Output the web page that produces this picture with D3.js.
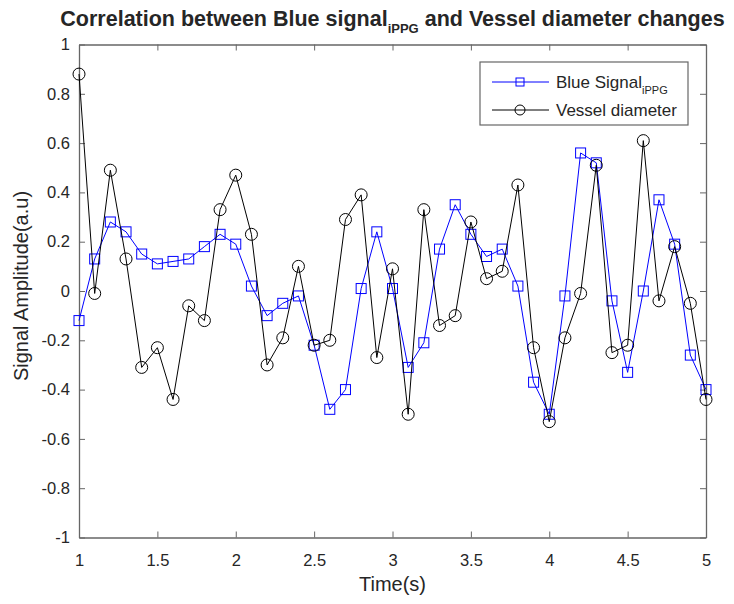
<!DOCTYPE html>
<html>
<head>
<meta charset="UTF-8" />
<script src="https://d3js.org/d3.v7.min.js"></script>
<style>
  body { margin: 0; background: #fff; }
  text { font-family: "Liberation Sans", Arial, sans-serif; fill: #262626; }
</style>
</head>
<body>
<svg id="chart" width="734" height="604"></svg>
<script>
// time samples (s)
const times = d3.range(41).map(i => +(1 + i * 0.1).toFixed(1));
// Blue signal iPPG
const blueSignal = [-0.12, 0.13, 0.28, 0.24, 0.15, 0.11, 0.12, 0.13, 0.18, 0.23,
  0.19, 0.02, -0.10, -0.05, -0.02, -0.22, -0.48, -0.40, 0.01, 0.24,
  0.01, -0.31, -0.21, 0.17, 0.35, 0.23, 0.14, 0.17, 0.02, -0.37,
  -0.50, -0.02, 0.56, 0.52, -0.04, -0.33, 0.00, 0.37, 0.19, -0.26, -0.40];
// Vessel diameter
const vesselDiameter = [0.88, -0.01, 0.49, 0.13, -0.31, -0.23, -0.44, -0.06, -0.12, 0.33,
  0.47, 0.23, -0.30, -0.19, 0.10, -0.22, -0.20, 0.29, 0.39, -0.27,
  0.09, -0.50, 0.33, -0.14, -0.10, 0.28, 0.05, 0.08, 0.43, -0.23,
  -0.53, -0.19, -0.01, 0.51, -0.25, -0.22, 0.61, -0.04, 0.18, -0.05, -0.44];
const xTicks = [1, 1.5, 2, 2.5, 3, 3.5, 4, 4.5, 5];
const yTicks = [-1, -0.8, -0.6, -0.4, -0.2, 0, 0.2, 0.4, 0.6, 0.8, 1];

const margin = { left: 79, right: 28, top: 44.5, bottom: 66.5 };
const W = 734, H = 604;
const svg = d3.select("#chart");

const x = d3.scaleLinear().domain([1, 5]).range([margin.left, W - margin.right]);
const y = d3.scaleLinear().domain([-1, 1]).range([H - margin.bottom, margin.top]);
const axisColor = "#666";
const tickLen = 6;
const fmt = d => String(d);

// axes (MATLAB style: ticks inside, box on)
const xAxisB = svg.append("g").attr("transform", `translate(0,${y(-1)})`)
  .call(d3.axisBottom(x).tickValues(xTicks).tickSizeInner(-tickLen).tickSizeOuter(0).tickPadding(14).tickFormat(fmt));
const xAxisT = svg.append("g").attr("transform", `translate(0,${y(1)})`)
  .call(d3.axisTop(x).tickValues(xTicks).tickSizeInner(-tickLen).tickSizeOuter(0).tickFormat(""));
const yAxisL = svg.append("g").attr("transform", `translate(${x(1)},0)`)
  .call(d3.axisLeft(y).tickValues(yTicks).tickSizeInner(-tickLen).tickSizeOuter(0).tickPadding(9).tickFormat(fmt));
const yAxisR = svg.append("g").attr("transform", `translate(${x(5)},0)`)
  .call(d3.axisRight(y).tickValues(yTicks).tickSizeInner(-tickLen).tickSizeOuter(0).tickFormat(""));

[xAxisB, xAxisT, yAxisL, yAxisR].forEach(g => {
  g.selectAll("path.domain").attr("stroke", axisColor).attr("stroke-width", 1.3);
  g.selectAll(".tick line").attr("stroke", axisColor);
  g.selectAll(".tick text").attr("fill", "#262626").style("font-size", "16.5px")
    .style("font-family", "'Liberation Sans', Arial, sans-serif");
});
xAxisB.selectAll(".tick text").attr("dy", "0.85em");

// series
const line = d3.line().x((d, i) => x(times[i])).y(d => y(d));

svg.append("path").datum(blueSignal)
  .attr("fill", "none").attr("stroke", "#0000ff").attr("stroke-width", 1)
  .attr("d", line);
svg.append("g").selectAll("rect").data(blueSignal).join("rect")
  .attr("x", (d, i) => x(times[i]) - 5).attr("y", d => y(d) - 5)
  .attr("width", 10).attr("height", 10)
  .attr("fill", "none").attr("stroke", "#0000ff").attr("stroke-width", 1);

svg.append("path").datum(vesselDiameter)
  .attr("fill", "none").attr("stroke", "#000").attr("stroke-width", 1)
  .attr("d", line);
svg.append("g").selectAll("circle").data(vesselDiameter).join("circle")
  .attr("cx", (d, i) => x(times[i])).attr("cy", d => y(d))
  .attr("r", 6)
  .attr("fill", "none").attr("stroke", "#000").attr("stroke-width", 1);

// title
const title = svg.append("text")
  .attr("x", (x(1) + x(5)) / 2).attr("y", 26)
  .attr("text-anchor", "middle")
  .style("font-size", "21.5px").style("font-weight", "bold").attr("fill", "#111");
title.append("tspan").text("Correlation between Blue signal");
title.append("tspan").attr("dy", 7).style("font-size", "13px").text("iPPG");
title.append("tspan").attr("dy", -7).text(" and Vessel diameter changes");

// axis labels
svg.append("text").attr("x", (x(1) + x(5)) / 2).attr("y", 591)
  .attr("text-anchor", "middle").style("font-size", "20px").text("Time(s)");
svg.append("text")
  .attr("transform", `translate(28,${y(0) - 5}) rotate(-90)`)
  .attr("text-anchor", "middle").style("font-size", "20px").text("Signal Amplitude(a.u)");

// legend
const leg = svg.append("g");
leg.append("rect").attr("x", 480).attr("y", 62).attr("width", 208).attr("height", 63)
  .attr("fill", "#fff").attr("stroke", axisColor).attr("stroke-width", 1.2);
const legendItems = [
  { name: "Blue Signal", sub: "iPPG", color: "#0000ff", shape: "square" },
  { name: "Vessel diameter", sub: null, color: "#000", shape: "circle" }
];
legendItems.forEach((item, i) => {
  const cy = 82 + i * 28;
  leg.append("line").attr("x1", 492).attr("x2", 549).attr("y1", cy).attr("y2", cy)
    .attr("stroke", item.color).attr("stroke-width", 1);
  if (item.shape === "square") {
    leg.append("rect").attr("x", 516).attr("y", cy - 4).attr("width", 8).attr("height", 8)
      .attr("fill", "none").attr("stroke", item.color);
  } else {
    leg.append("circle").attr("cx", 520).attr("cy", cy).attr("r", 5)
      .attr("fill", "none").attr("stroke", item.color);
  }
  const t = leg.append("text").attr("x", 556).attr("y", cy + 6).style("font-size", "17px");
  t.append("tspan").text(item.name);
  if (item.sub) t.append("tspan").attr("dy", 6).style("font-size", "11px").text(item.sub);
});
</script>
</body>
</html>
